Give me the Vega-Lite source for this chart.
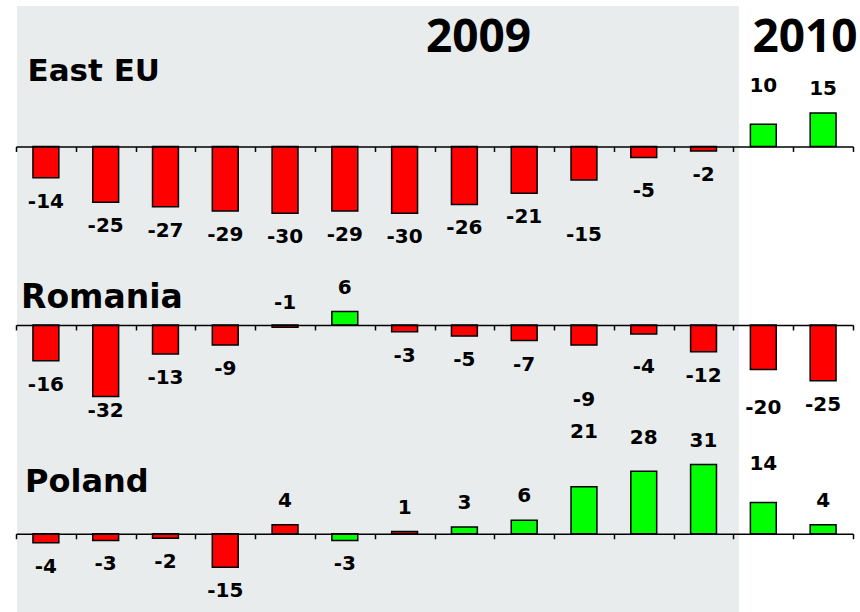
{
  "$schema": "https://vega.github.io/schema/vega-lite/v6.json",
  "autosize": {"type": "pad"},
  "padding": {"left": 15, "top": 6, "right": 0, "bottom": 0},
  "background": "white",
  "config": {"view": {"stroke": null}, "concat": {"spacing": 0}},
  "spacing": 0,
  "bounds": "flush",
  "resolve": {"scale": {"y": "independent"}},
  "datasets": {"growth": [
    {"series": "East EU", "month": "Jan 09", "value": -14, "dir": "down"},
    {"series": "East EU", "month": "Feb 09", "value": -25, "dir": "down"},
    {"series": "East EU", "month": "Mar 09", "value": -27, "dir": "down"},
    {"series": "East EU", "month": "Apr 09", "value": -29, "dir": "down"},
    {"series": "East EU", "month": "May 09", "value": -30, "dir": "down"},
    {"series": "East EU", "month": "Jun 09", "value": -29, "dir": "down"},
    {"series": "East EU", "month": "Jul 09", "value": -30, "dir": "down"},
    {"series": "East EU", "month": "Aug 09", "value": -26, "dir": "down"},
    {"series": "East EU", "month": "Sep 09", "value": -21, "dir": "down"},
    {"series": "East EU", "month": "Oct 09", "value": -15, "dir": "down"},
    {"series": "East EU", "month": "Nov 09", "value": -5, "dir": "down"},
    {"series": "East EU", "month": "Dec 09", "value": -2, "dir": "down"},
    {"series": "East EU", "month": "Jan 10", "value": 10, "dir": "up"},
    {"series": "East EU", "month": "Feb 10", "value": 15, "dir": "up"},
    {"series": "Romania", "month": "Jan 09", "value": -16, "dir": "down"},
    {"series": "Romania", "month": "Feb 09", "value": -32, "dir": "down"},
    {"series": "Romania", "month": "Mar 09", "value": -13, "dir": "down"},
    {"series": "Romania", "month": "Apr 09", "value": -9, "dir": "down"},
    {"series": "Romania", "month": "May 09", "value": -1, "dir": "down"},
    {"series": "Romania", "month": "Jun 09", "value": 6, "dir": "up"},
    {"series": "Romania", "month": "Jul 09", "value": -3, "dir": "down"},
    {"series": "Romania", "month": "Aug 09", "value": -5, "dir": "down"},
    {"series": "Romania", "month": "Sep 09", "value": -7, "dir": "down"},
    {"series": "Romania", "month": "Oct 09", "value": -9, "dir": "down"},
    {"series": "Romania", "month": "Nov 09", "value": -4, "dir": "down"},
    {"series": "Romania", "month": "Dec 09", "value": -12, "dir": "down"},
    {"series": "Romania", "month": "Jan 10", "value": -20, "dir": "down"},
    {"series": "Romania", "month": "Feb 10", "value": -25, "dir": "down"},
    {"series": "Poland", "month": "Jan 09", "value": -4, "dir": "down"},
    {"series": "Poland", "month": "Feb 09", "value": -3, "dir": "down"},
    {"series": "Poland", "month": "Mar 09", "value": -2, "dir": "down"},
    {"series": "Poland", "month": "Apr 09", "value": -15, "dir": "down"},
    {"series": "Poland", "month": "May 09", "value": 4, "dir": "down"},
    {"series": "Poland", "month": "Jun 09", "value": -3, "dir": "up"},
    {"series": "Poland", "month": "Jul 09", "value": 1, "dir": "down"},
    {"series": "Poland", "month": "Aug 09", "value": 3, "dir": "up"},
    {"series": "Poland", "month": "Sep 09", "value": 6, "dir": "up"},
    {"series": "Poland", "month": "Oct 09", "value": 21, "dir": "up"},
    {"series": "Poland", "month": "Nov 09", "value": 28, "dir": "up"},
    {"series": "Poland", "month": "Dec 09", "value": 31, "dir": "up"},
    {"series": "Poland", "month": "Jan 10", "value": 14, "dir": "up"},
    {"series": "Poland", "month": "Feb 10", "value": 4, "dir": "up"}
  ]},
  "vconcat": [
    {
      "width": 837, "height": 243,
      "layer": [
        {"data": {"values": [{"from": "Jan 09", "to": "Dec 09"}]}, "mark": {"type": "rect", "color": "#e9eced", "x2Offset": 5.5, "xOffset": 1, "y2Offset": 3},
         "encoding": {"x": {"field": "from", "type": "ordinal", "bandPosition": 0, "scale": {"domain": ["Jan 09","Feb 09","Mar 09","Apr 09","May 09","Jun 09","Jul 09","Aug 09","Sep 09","Oct 09","Nov 09","Dec 09","Jan 10","Feb 10"], "paddingInner": 0, "paddingOuter": 0}, "axis": {"orient": "bottom", "offset": -102.55, "labels": false, "title": null, "tickBand": "extent", "tickSize": 5, "tickColor": "black", "domainColor": "black", "domainWidth": 1.6, "tickWidth": 1.5, "zindex": 1}},
                      "x2": {"field": "to", "bandPosition": 1}}},
        {"data": {"name": "growth"}, "transform": [{"filter": "datum.series == 'East EU'"}],
         "mark": {"type": "bar", "width": {"band": 0.433}, "stroke": "black", "strokeWidth": 1.5},
         "encoding": {"x": {"field": "month", "type": "ordinal"},
                      "y": {"field": "value", "type": "quantitative", "scale": {"domain": [-46, 63], "nice": false}, "axis": null},
                      "color": {"field": "dir", "type": "nominal", "scale": {"domain": ["down", "up"], "range": ["#ff0000", "#00ff00"]}, "legend": null}}},
        {"data": {"name": "growth"}, "transform": [{"filter": "datum.series == 'East EU'"}],
         "mark": {"type": "text", "font": "DejaVu Sans", "fontWeight": "bold", "fontSize": 20, "baseline": "middle", "color": "black",
                  "dy": {"expr": "datum.value < -31 ? 15 : (datum.value <= -2 ? 1 : -1) * (datum.month == 'Oct 09' ? 55 : datum.month == 'Nov 09' ? 33 : datum.month == 'Jan 10' ? 38 : 24)"}},
         "encoding": {"x": {"field": "month", "type": "ordinal"}, "y": {"field": "value", "type": "quantitative"}, "text": {"field": "value", "type": "nominal"}}},
        {"data": {"values": [{"label": "East EU"}]}, "mark": {"type": "text", "font": "DejaVu Sans", "fontWeight": "bold", "fontSize": 31, "align": "left", "baseline": "alphabetic", "dx": 11.5},
         "encoding": {"x": {"datum": "Jan 09", "bandPosition": 0}, "y": {"datum": 29.5}, "text": {"field": "label", "type": "nominal"}}},
        {"data": {"values": [{"label": "2009"}]}, "mark": {"type": "text", "font": "Noto Sans", "fontWeight": "bold", "fontSize": 46, "align": "center", "baseline": "alphabetic"},
         "encoding": {"x": {"datum": "Aug 09", "bandPosition": 0.736}, "y": {"datum": 42.4}, "text": {"field": "label", "type": "nominal"}}},
        {"data": {"values": [{"label": "2010"}]}, "mark": {"type": "text", "font": "Noto Sans", "fontWeight": "bold", "fontSize": 46, "align": "center", "baseline": "alphabetic"},
         "encoding": {"x": {"datum": "Feb 10", "bandPosition": 0.198}, "y": {"datum": 42.4}, "text": {"field": "label", "type": "nominal"}}}
      ]
    },
    {
      "width": 837, "height": 172,
      "layer": [
        {"data": {"values": [{"from": "Jan 09", "to": "Dec 09"}]}, "mark": {"type": "rect", "color": "#e9eced", "x2Offset": 5.5, "xOffset": 1, "y2Offset": 3, "yOffset": -3},
         "encoding": {"x": {"field": "from", "type": "ordinal", "bandPosition": 0, "scale": {"domain": ["Jan 09","Feb 09","Mar 09","Apr 09","May 09","Jun 09","Jul 09","Aug 09","Sep 09","Oct 09","Nov 09","Dec 09","Jan 10","Feb 10"], "paddingInner": 0, "paddingOuter": 0}, "axis": {"orient": "bottom", "offset": -96.05, "labels": false, "title": null, "tickBand": "extent", "tickSize": 5, "tickColor": "black", "domainColor": "black", "domainWidth": 1.6, "tickWidth": 1.5, "zindex": 1}},
                      "x2": {"field": "to", "bandPosition": 1}}},
        {"data": {"name": "growth"}, "transform": [{"filter": "datum.series == 'Romania'"}],
         "mark": {"type": "bar", "width": {"band": 0.433}, "stroke": "black", "strokeWidth": 1.5},
         "encoding": {"x": {"field": "month", "type": "ordinal"},
                      "y": {"field": "value", "type": "quantitative", "scale": {"domain": [-43, 34], "nice": false}, "axis": null},
                      "color": {"field": "dir", "type": "nominal", "scale": {"domain": ["down", "up"], "range": ["#ff0000", "#00ff00"]}, "legend": null}}},
        {"data": {"name": "growth"}, "transform": [{"filter": "datum.series == 'Romania'"}],
         "mark": {"type": "text", "font": "DejaVu Sans", "fontWeight": "bold", "fontSize": 20, "baseline": "middle", "color": "black",
                  "dy": {"expr": "datum.value < -31 ? 15 : (datum.value <= -2 ? 1 : -1) * (datum.month == 'Oct 09' ? 55 : datum.month == 'Nov 09' ? 33 : datum.month == 'Jan 10' ? 38 : 24)"}},
         "encoding": {"x": {"field": "month", "type": "ordinal"}, "y": {"field": "value", "type": "quantitative"}, "text": {"field": "value", "type": "nominal"}}},
        {"data": {"values": [{"label": "Romania"}]}, "mark": {"type": "text", "font": "DejaVu Sans", "fontWeight": "bold", "fontSize": 33, "align": "left", "baseline": "alphabetic", "dx": 5},
         "encoding": {"x": {"datum": "Jan 09", "bandPosition": 0}, "y": {"datum": 7.45}, "text": {"field": "label", "type": "nominal"}}}
      ]
    },
    {
      "width": 837, "height": 192,
      "layer": [
        {"data": {"values": [{"from": "Jan 09", "to": "Dec 09"}]}, "mark": {"type": "rect", "color": "#e9eced", "x2Offset": 5.5, "xOffset": 1, "yOffset": -3},
         "encoding": {"x": {"field": "from", "type": "ordinal", "bandPosition": 0, "scale": {"domain": ["Jan 09","Feb 09","Mar 09","Apr 09","May 09","Jun 09","Jul 09","Aug 09","Sep 09","Oct 09","Nov 09","Dec 09","Jan 10","Feb 10"], "paddingInner": 0, "paddingOuter": 0}, "axis": {"orient": "bottom", "offset": -79.26, "labels": false, "title": null, "tickBand": "extent", "tickSize": 5, "tickColor": "black", "domainColor": "black", "domainWidth": 1.6, "tickWidth": 1.5, "zindex": 1}},
                      "x2": {"field": "to", "bandPosition": 1}}},
        {"data": {"name": "growth"}, "transform": [{"filter": "datum.series == 'Poland'"}],
         "mark": {"type": "bar", "width": {"band": 0.433}, "stroke": "black", "strokeWidth": 1.5},
         "encoding": {"x": {"field": "month", "type": "ordinal"},
                      "y": {"field": "value", "type": "quantitative", "scale": {"domain": [-35.5, 50.5], "nice": false}, "axis": null},
                      "color": {"field": "dir", "type": "nominal", "scale": {"domain": ["down", "up"], "range": ["#ff0000", "#00ff00"]}, "legend": null}}},
        {"data": {"name": "growth"}, "transform": [{"filter": "datum.series == 'Poland'"}],
         "mark": {"type": "text", "font": "DejaVu Sans", "fontWeight": "bold", "fontSize": 20, "baseline": "middle", "color": "black",
                  "dy": {"expr": "datum.value < -31 ? 15 : (datum.value <= -2 ? 1 : -1) * (datum.month == 'Oct 09' ? 55 : datum.month == 'Nov 09' ? 33 : datum.month == 'Jan 10' ? 38 : 24)"}},
         "encoding": {"x": {"field": "month", "type": "ordinal"}, "y": {"field": "value", "type": "quantitative"}, "text": {"field": "value", "type": "nominal"}}},
        {"data": {"values": [{"label": "Poland"}]}, "mark": {"type": "text", "font": "DejaVu Sans", "fontWeight": "bold", "fontSize": 32, "align": "left", "baseline": "alphabetic", "dx": 9},
         "encoding": {"x": {"datum": "Jan 09", "bandPosition": 0}, "y": {"datum": 18.7}, "text": {"field": "label", "type": "nominal"}}}
      ]
    }
  ]
}
